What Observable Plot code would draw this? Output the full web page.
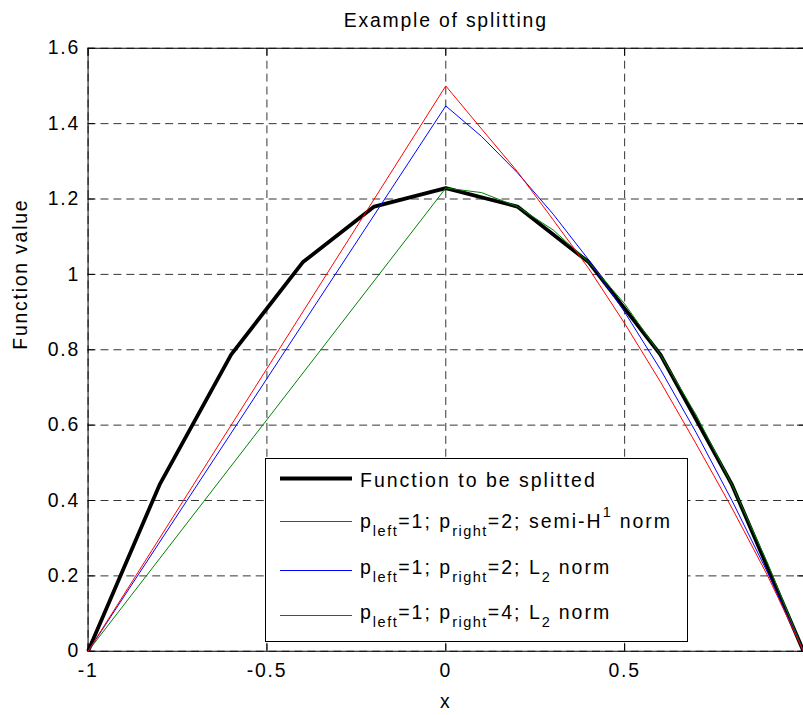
<!DOCTYPE html>
<html>
<head>
<meta charset="utf-8">
<script src="https://cdn.jsdelivr.net/npm/d3@7"></script>
<script src="https://cdn.jsdelivr.net/npm/@observablehq/plot@0.6"></script>
<style>
  html, body { margin: 0; padding: 0; background: #fff; overflow: hidden; }
  #wrap { position: relative; width: 803px; height: 715px; overflow: hidden; }
  #legend { position: absolute; left: 265px; top: 458px; width: 423px; height: 184px;
    border: 1px solid #000; background: #fff; box-sizing: border-box;
    font-family: "Liberation Sans", Arial, sans-serif; font-size: 19.5px; letter-spacing: 2px; color: #000; }
  #legend svg { position: absolute; left: 0; top: 0; }
  .row { position: absolute; left: 94px; white-space: nowrap; line-height: normal; }
  .sub { position: relative; top: 8px; font-size: 14.5px; letter-spacing: 1.5px; }
  .sup { position: relative; top: -11px; font-size: 14.5px; letter-spacing: 1.5px; }
</style>
</head>
<body>
<div id="wrap"></div>
<script>
// ---- data ----
const xTicks = [-1, -0.5, 0, 0.5];
const yTicks = [0, 0.2, 0.4, 0.6, 0.8, 1, 1.2, 1.4, 1.6];

// function to be splitted (sampled every 0.2)
const xFunc = [-1, -0.8, -0.6, -0.4, -0.2, 0, 0.2, 0.4, 0.6, 0.8, 1];
const yFunc = [0, 0.442, 0.787, 1.032, 1.180, 1.229, 1.180, 1.032, 0.787, 0.442, 0];

// left pieces (p_left = 1, straight lines)
const xLeft = [-1, 0];
const greenLeft = [0, 1.229];
const blueLeft = [0, 1.447];
const redLeft = [0, 1.5];

// right pieces (sampled every 0.1)
const xRight = [0, 0.1, 0.2, 0.3, 0.4, 0.5, 0.6, 0.7, 0.8, 0.9, 1];
const greenRight = [1.229, 1.217, 1.180, 1.118, 1.032, 0.922, 0.787, 0.627, 0.442, 0.233, 0];
const blueRight = [1.447, 1.366, 1.270, 1.160, 1.038, 0.900, 0.748, 0.580, 0.400, 0.208, 0];
const redRight = [1.500, 1.386, 1.273, 1.145, 1.015, 0.870, 0.715, 0.550, 0.380, 0.200, 0];

const seriesNames = [
  "Function to be splitted",
  "p_left=1; p_right=2; semi-H^1 norm",
  "p_left=1; p_right=2; L_2 norm",
  "p_left=1; p_right=4; L_2 norm"
];
const seriesColors = ["#000000", "#008000", "#0000ff", "#ff0000"];

// ---- build tables ----
const pts = (xs, ys) => xs.map((x, i) => ({x, y: ys[i]}));
const funcData = pts(xFunc, yFunc);
const greenData = pts(xLeft, greenLeft).concat(pts(xRight, greenRight));
const blueData = pts(xLeft, blueLeft).concat(pts(xRight, blueRight));
const redData = pts(xLeft, redLeft).concat(pts(xRight, redRight));

const fmt = d => String(d);
const gridStyle = {stroke: "#333", strokeOpacity: 1, strokeWidth: 1, strokeDasharray: "8,5"};

const chart = Plot.plot({
  width: 807,
  height: 715,
  marginLeft: 88,
  marginRight: 0,
  marginTop: 48,
  marginBottom: 61,
  style: {fontFamily: "Liberation Sans, Arial, sans-serif", fontSize: "19.5px", letterSpacing: "1.8px", background: "#fff", color: "#000"},
  x: {domain: [-1, 1]},
  y: {domain: [0, 1.6]},
  marks: [
    Plot.gridX(xTicks, gridStyle),
    Plot.gridY(yTicks, gridStyle),
    Plot.frame({stroke: "#000", strokeWidth: 1}),
    Plot.axisX({anchor: "bottom", ticks: xTicks, tickSize: -7, tickPadding: 19, tickFormat: fmt, label: null, stroke: "#000", fill: "#000"}),
    Plot.axisX({anchor: "top", ticks: xTicks, tickSize: -7, tickFormat: () => "", label: null, stroke: "#000"}),
    Plot.axisY({anchor: "left", ticks: yTicks, tickSize: -7, tickPadding: 15, tickFormat: fmt, label: null, stroke: "#000", fill: "#000"}),
    Plot.axisY({anchor: "right", ticks: yTicks, tickSize: -7, tickFormat: () => "", label: null, stroke: "#000"}),
    Plot.line(funcData, {x: "x", y: "y", stroke: seriesColors[0], strokeWidth: 3.8, strokeLinejoin: "miter", strokeLinecap: "butt"}),
    Plot.line(greenData, {x: "x", y: "y", stroke: seriesColors[1], strokeWidth: 1}),
    Plot.line(blueData, {x: "x", y: "y", stroke: seriesColors[2], strokeWidth: 1}),
    Plot.line(redData, {x: "x", y: "y", stroke: seriesColors[3], strokeWidth: 1}),
    Plot.text(["Example of splitting"], {frameAnchor: "top", dy: -21, lineAnchor: "bottom", fontSize: 19.5, fill: "#000"}),
    Plot.text(["x"], {frameAnchor: "bottom", dy: 57, lineAnchor: "bottom", fontSize: 19.5, fill: "#000"}),
    Plot.text(["Function value"], {frameAnchor: "left", dx: -68, rotate: -90, lineAnchor: "middle", fontSize: 19.5, fill: "#000"})
  ]
});

const wrap = document.getElementById("wrap");
wrap.appendChild(chart);

// ---- legend (HTML overlay inside the axes) ----
const legend = document.createElement("div");
legend.id = "legend";
const rowLineY = [19.5, 62.5, 111.5, 156.5];
const rowBaseline = [28, 69, 115, 160];
const lineWidths = [4, 1, 1, 1];
const NS = "http://www.w3.org/2000/svg";
const lsvg = document.createElementNS(NS, "svg");
lsvg.setAttribute("width", 100);
lsvg.setAttribute("height", 182);
function labelHTML(s) {
  return s
    .replace(/_(left|right|2)/g, '<span class="sub">$1</span>')
    .replace(/\^1/g, '<span class="sup">1</span>');
}
seriesNames.forEach((name, i) => {
  const ln = document.createElementNS(NS, "line");
  ln.setAttribute("x1", 14);
  ln.setAttribute("x2", 86);
  ln.setAttribute("y1", rowLineY[i]);
  ln.setAttribute("y2", rowLineY[i]);
  ln.setAttribute("stroke", seriesColors[i]);
  ln.setAttribute("stroke-width", lineWidths[i]);
  lsvg.appendChild(ln);
  const r = document.createElement("div");
  r.className = "row";
  r.style.top = Math.round(rowBaseline[i] - 18) + "px";
  r.innerHTML = labelHTML(name);
  legend.appendChild(r);
});
legend.appendChild(lsvg);
wrap.appendChild(legend);
</script>
</body>
</html>
